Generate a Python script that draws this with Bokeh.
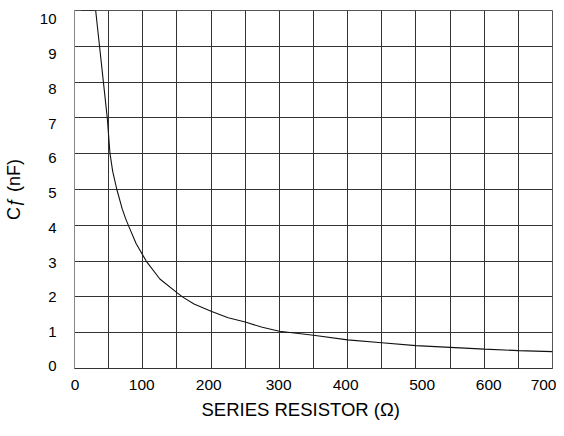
from bokeh.plotting import figure
from bokeh.models import Range1d, FixedTicker, Title
from bokeh.embed import file_html
from bokeh.resources import INLINE

# Data
resistor = [10, 31, 48, 52, 56, 62, 70, 75, 80, 90, 105, 125, 150, 158, 175, 200, 225, 250,
            275, 300, 350, 400, 450, 500, 550, 600, 650, 700]
cf = [10, 10, 7.0, 6.0, 5.5, 5.0, 4.45, 4.18, 3.95, 3.5, 3.0, 2.5, 2.12, 2.0, 1.8, 1.6, 1.42,
      1.3, 1.15, 1.04, 0.93, 0.80, 0.72, 0.64, 0.59, 0.54, 0.50, 0.47]

x_tick_labels = ["0", "100", "200", "300", "400", "500", "600", "700"]
y_tick_labels = ["0", "1", "2", "3", "4", "5", "6", "7", "8", "9", "10"]
# where the printed tick labels sit (the original's labels are slightly off the grid)
x_label_at = [1, 98.5, 196.6, 299, 397, 509, 606.6, 697.4]
y_label_at = [0.06, 1.03, 2.0, 2.96, 3.93, 4.9, 5.87, 6.84, 7.81, 8.78, 9.75]
x_grid = [0, 50, 100, 150, 200, 250, 300, 350, 400, 450, 500, 550, 600, 650, 700]
y_grid = [0, 1, 2, 3, 4, 5, 6, 7, 8, 9, 10]

FONT = "Liberation Sans"

p = figure(frame_width=478, frame_height=358, output_backend="svg",
           toolbar_location=None,
           x_range=Range1d(0, 700), y_range=Range1d(0, 10),
           min_border_left=66, min_border_right=4, min_border_top=10,
           min_border_bottom=51)

p.line(resistor, cf, line_color="#111111", line_width=1.1)

p.xaxis.ticker = FixedTicker(ticks=x_label_at)
p.yaxis.ticker = FixedTicker(ticks=y_label_at)
p.xaxis.major_label_overrides = {t: s for t, s in zip(x_label_at, x_tick_labels)}
p.yaxis.major_label_overrides = {t: s for t, s in zip(y_label_at, y_tick_labels)}
p.xgrid.ticker = FixedTicker(ticks=x_grid)
p.ygrid.ticker = FixedTicker(ticks=y_grid)
for g in (p.xgrid, p.ygrid):
    g.grid_line_color = "#333333"
    g.grid_line_alpha = 1.0
    g.grid_line_width = 1

for ax in (p.xaxis, p.yaxis):
    ax.major_tick_line_color = None
    ax.minor_tick_line_color = None
    ax.major_label_text_font = FONT
    ax.major_label_text_color = "#000000"
    ax.axis_label_text_font = FONT
    ax.axis_label_text_font_style = "normal"
    ax.axis_label_text_color = "#000000"

p.xaxis.major_label_text_font_size = "15.5px"
p.yaxis.major_label_text_font_size = "15px"
p.xaxis.axis_line_color = "#333333"
p.yaxis.axis_line_color = "#888888"
p.xaxis.major_label_standoff = 5
p.yaxis.major_label_standoff = 12
p.yaxis.axis_label = "Cƒ (nF)"
p.yaxis.axis_label_text_font_size = "18px"
p.yaxis.axis_label_standoff = 13

p.add_layout(Title(text="SERIES RESISTOR (Ω)", text_font=FONT,
                   text_font_size="18.5px", text_font_style="normal",
                   text_color="#000000", align="left", offset=127,
                   standoff=8), "below")

p.outline_line_color = "#555555"
p.outline_line_width = 1
p.background_fill_color = "white"
p.border_fill_color = "white"

open("out.html", "w").write(file_html(p, INLINE))
